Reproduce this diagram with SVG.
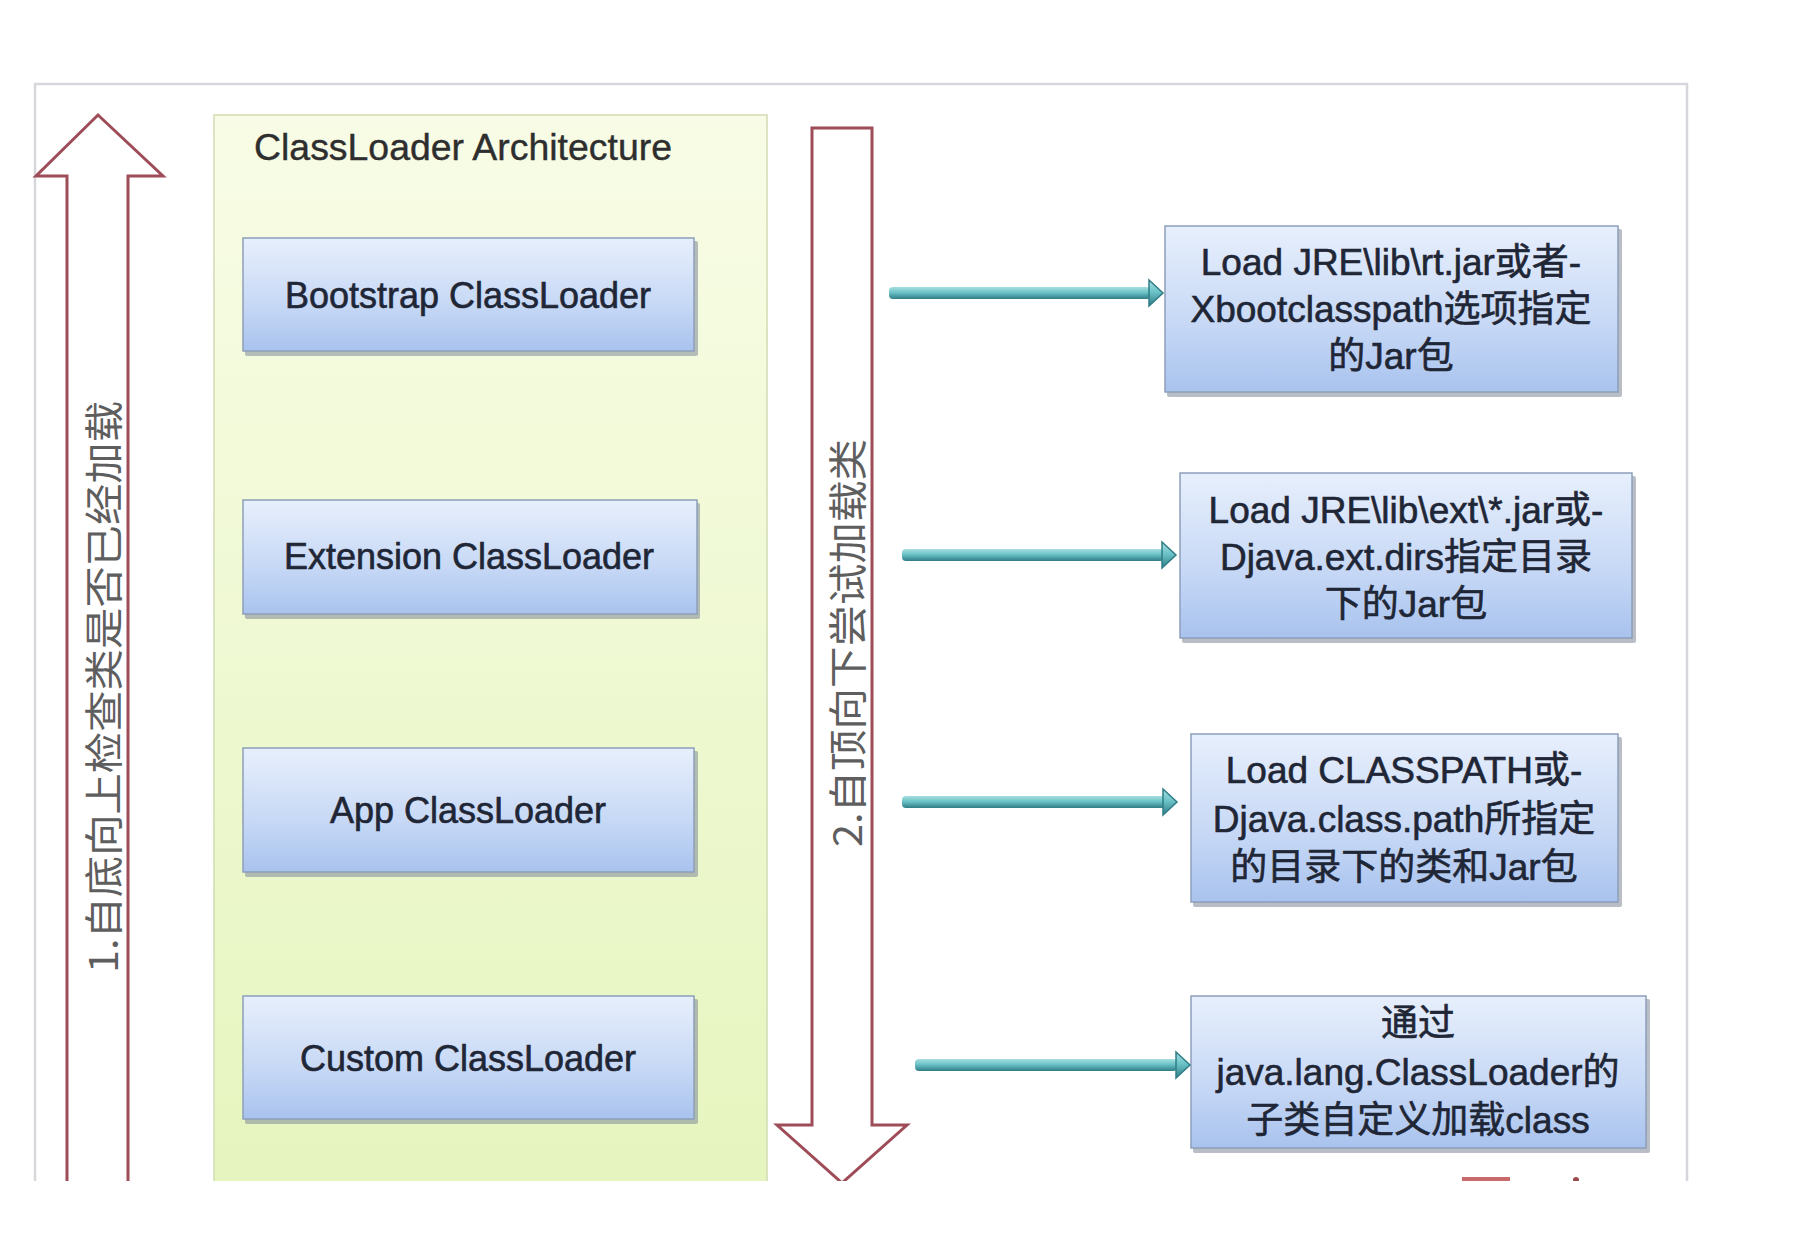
<svg xmlns="http://www.w3.org/2000/svg" width="1796" height="1250" viewBox="0 0 1796 1250">
<defs>
  <clipPath id="cut"><rect x="0" y="0" width="1796" height="1181"/></clipPath>
  <linearGradient id="greenBg" x1="0" y1="0" x2="0" y2="1">
    <stop offset="0" stop-color="#f8fce6"/>
    <stop offset="1" stop-color="#e5f5bd"/>
  </linearGradient>
  <linearGradient id="blueBox" x1="0" y1="0" x2="0" y2="1">
    <stop offset="0" stop-color="#e7effc"/>
    <stop offset="0.55" stop-color="#c9daf6"/>
    <stop offset="1" stop-color="#a9c3ee"/>
  </linearGradient>
  <linearGradient id="teal" x1="0" y1="0" x2="0" y2="1">
    <stop offset="0" stop-color="#a6dfe0"/>
    <stop offset="0.45" stop-color="#6cc3c8"/>
    <stop offset="1" stop-color="#2f7d86"/>
  </linearGradient>
  <style>
    .frame{fill:none;stroke:#d6d6dc;stroke-width:2.5}
    .bigArrow{fill:#ffffff;stroke:#9e4d58;stroke-width:3;stroke-linejoin:miter}
    .vtext{font-family:"Noto Sans CJK SC","Liberation Serif",serif;font-size:39px;fill:#5e5e5e}
    .shadow{fill:#7f8898;opacity:0.55}
    .box{fill:url(#blueBox);stroke:#8d9fba;stroke-width:1.5}
    .label{font-family:"Liberation Sans","Noto Sans CJK SC",sans-serif;font-size:36px;fill:#1f2636;stroke:#1f2636;stroke-width:0.6;text-anchor:middle}
    .rlabel{font-family:"Liberation Sans","Noto Sans CJK SC",sans-serif;font-size:37px;fill:#1f2636;stroke:#1f2636;stroke-width:0.6;text-anchor:middle}
    .title{font-family:"Liberation Sans",sans-serif;font-size:37px;fill:#2e2e2e;stroke:#2e2e2e;stroke-width:0.4}
    .shaft{fill:url(#teal)}
    .head{fill:url(#teal);stroke:#2f7d86;stroke-width:1.5}
  </style>
</defs>

<rect x="0" y="0" width="1796" height="1250" fill="#ffffff"/>

<g clip-path="url(#cut)">
  <rect id="frame" class="frame" x="35" y="84" width="1652" height="1140"/>

  <g id="container">
    <rect x="214" y="115" width="553" height="1110" fill="url(#greenBg)" stroke="#d2dbb4" stroke-width="1.5"/>
    <text class="title" x="254" y="160" textLength="418" lengthAdjust="spacingAndGlyphs">ClassLoader Architecture</text>
  </g>

  <g id="upArrow">
    <path class="bigArrow" d="M98,115 L163,176 L128,176 L128,1230 L67,1230 L67,176 L36,176 Z"/>
    <text class="vtext" transform="translate(101,687) rotate(-90)" x="0" y="0" text-anchor="middle" dominant-baseline="central" textLength="572" lengthAdjust="spacingAndGlyphs">1.自底向上检查类是否已经加载</text>
  </g>

  <g id="downArrow">
    <path class="bigArrow" d="M812,128 L872,128 L872,1125 L907,1125 L842,1183 L777,1125 L812,1125 Z"/>
    <text class="vtext" transform="translate(845,643) rotate(-90)" x="0" y="0" text-anchor="middle" dominant-baseline="central" textLength="408" lengthAdjust="spacingAndGlyphs">2.自顶向下尝试加载类</text>
  </g>

  <g id="marks">
    <rect x="1462" y="1177" width="48" height="5" fill="#c86a6a"/>
    <circle cx="1576" cy="1180" r="3" fill="#9a4a4a"/>
  </g>
</g>

<g id="bootstrap">
  <rect class="shadow" x="245" y="241" width="453" height="115" rx="2"/>
  <rect class="box" x="243" y="238" width="451" height="113"/>
  <text class="label" x="468" y="308">Bootstrap ClassLoader</text>
</g>
<g id="extension">
  <rect class="shadow" x="245" y="503" width="455" height="116" rx="2"/>
  <rect class="box" x="243" y="500" width="454" height="114"/>
  <text class="label" x="469" y="569">Extension ClassLoader</text>
</g>
<g id="app">
  <rect class="shadow" x="245" y="751" width="453" height="126" rx="2"/>
  <rect class="box" x="243" y="748" width="451" height="124"/>
  <text class="label" x="468" y="823">App ClassLoader</text>
</g>
<g id="custom">
  <rect class="shadow" x="245" y="999" width="453" height="125" rx="2"/>
  <rect class="box" x="243" y="996" width="451" height="123"/>
  <text class="label" x="468" y="1071">Custom ClassLoader</text>
</g>

<g id="rt">
  <rect class="shadow" x="1167" y="229" width="455" height="168" rx="2"/>
  <rect class="box" x="1165" y="226" width="453" height="166"/>
  <text class="rlabel" x="1391" y="275">Load JRE\lib\rt.jar或者-</text>
  <text class="rlabel" x="1391" y="322">Xbootclasspath选项指定</text>
  <text class="rlabel" x="1391" y="369">的Jar包</text>
</g>
<g id="ext">
  <rect class="shadow" x="1182" y="476" width="454" height="167" rx="2"/>
  <rect class="box" x="1180" y="473" width="452" height="165"/>
  <text class="rlabel" x="1406" y="523">Load JRE\lib\ext\*.jar或-</text>
  <text class="rlabel" x="1406" y="570">Djava.ext.dirs指定目录</text>
  <text class="rlabel" x="1406" y="617">下的Jar包</text>
</g>
<g id="classpath">
  <rect class="shadow" x="1193" y="737" width="429" height="170" rx="2"/>
  <rect class="box" x="1191" y="734" width="427" height="168"/>
  <text class="rlabel" x="1404" y="783">Load CLASSPATH或-</text>
  <text class="rlabel" x="1404" y="832">Djava.class.path所指定</text>
  <text class="rlabel" x="1404" y="880">的目录下的类和Jar包</text>
</g>
<g id="customLoad">
  <rect class="shadow" x="1193" y="999" width="457" height="154" rx="2"/>
  <rect class="box" x="1191" y="996" width="455" height="152"/>
  <text class="rlabel" x="1418" y="1036">通过</text>
  <text class="rlabel" x="1418" y="1085">java.lang.ClassLoader的</text>
  <text class="rlabel" x="1418" y="1133">子类自定义加载class</text>
</g>

<g id="connectors">
  <g>
    <rect class="shaft" x="889" y="287" width="262" height="12" rx="4"/>
    <polygon class="head" points="1149,280 1163,293 1149,306"/>
  </g>
  <g>
    <rect class="shaft" x="902" y="549" width="262" height="12" rx="4"/>
    <polygon class="head" points="1162,542 1176,555 1162,568"/>
  </g>
  <g>
    <rect class="shaft" x="902" y="796" width="263" height="12" rx="4"/>
    <polygon class="head" points="1163,789 1177,802 1163,815"/>
  </g>
  <g>
    <rect class="shaft" x="915" y="1059" width="262" height="12" rx="4"/>
    <polygon class="head" points="1176,1052 1190,1065 1176,1078"/>
  </g>
</g>
</svg>
